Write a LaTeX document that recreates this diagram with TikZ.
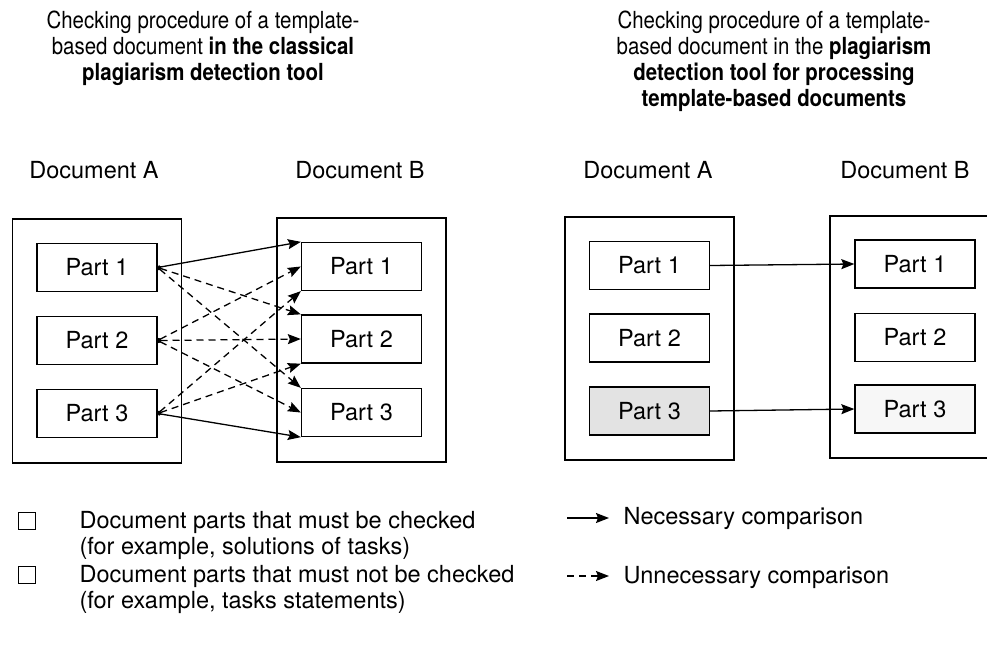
\documentclass[tikz,border=0pt]{standalone}
\usepackage{fontspec}
\setmainfont{TeX Gyre Heros}
\newfontfamily\titlefont[FakeStretch=0.87]{TeX Gyre Heros}
\usepackage{tikz}
\usetikzlibrary{arrows.meta,positioning}

\tikzset{
  part/.style={draw, line width=1.3pt, minimum width=120pt, minimum height=48pt, inner sep=0pt},
  docbox/.style={draw, line width=1.1pt, inner sep=0pt},
  need/.style={line width=1.3pt, -{Stealth[length=13pt,width=10pt,inset=2pt]}},
  noneed/.style={need, dash pattern=on 7pt off 5pt},
  dotstart/.style={{Circle[length=3.5pt]}-{Stealth[length=13pt,width=10pt,inset=2pt]}},
  keybox/.style={draw, line width=1.1pt, minimum width=17pt, minimum height=17pt, inner sep=0pt},
  heading/.style={align=center, font=\titlefont\fontsize{23.5}{26}\selectfont},
}

\begin{document}
\begin{tikzpicture}[x=1pt, y=-1pt, font=\fontsize{23.5}{26}\selectfont]
    \useasboundingbox (0,0) rectangle (987,645);

    % Titles
    \node[heading] (ltitle) at (203,48) {Checking procedure of a template-\\based document \textbf{in the classical}\\\textbf{plagiarism detection tool}};
    \node[heading] (rtitle) at (774,61) {Checking procedure of a template-\\based document in the \textbf{plagiarism}\\\textbf{detection tool for processing}\\\textbf{template-based documents}};

    % Left panel: classical tool
    \node (lhA) at (94,170) {Document A};
    \node (lhB) at (360,170) {Document B};
    \node[docbox, minimum width=169pt, minimum height=244pt] (lA) at (97,341) {};
    \node[docbox, minimum width=169pt, minimum height=244pt] (lB) at (361.5,340) {};
    \node[part] (lA1) at (97,267.5) {Part 1};
    \node[part] (lA2) at (97,340.5) {Part 2};
    \node[part] (lA3) at (97,413.5) {Part 3};
    \node[part] (lB1) at (361.5,266.5) {Part 1};
    \node[part] (lB2) at (361.5,339) {Part 2};
    \node[part] (lB3) at (361.5,412.5) {Part 3};

    % every part against every part
    \draw[need, dotstart] (lA1.east) -- (lB1.north west);
    \draw[noneed, dotstart] (lA1.east) -- (lB2.north west);
    \draw[noneed, dotstart] (lA1.east) -- (lB3.north west);
    \draw[noneed, dotstart] (lA2.east) -- (lB1.west);
    \draw[noneed, dotstart] (lA2.east) -- (lB2.west);
    \draw[noneed, dotstart] (lA2.east) -- (lB3.west);
    \draw[noneed, dotstart] (lA3.east) -- (lB1.south west);
    \draw[noneed, dotstart] (lA3.east) -- (lB2.south west);
    \draw[need, dotstart] (lA3.east) -- (lB3.south west);

    % Right panel: template-based tool
    \node (rhA) at (648,170) {Document A};
    \node (rhB) at (905,170) {Document B};
    \node[docbox, minimum width=169pt, minimum height=243pt] (rA) at (649.5,338.5) {};
    \node[docbox, minimum width=164pt, minimum height=242pt] (rB) at (912,337) {};
    \node[part] (rA1) at (649.5,265.5) {Part 1};
    \node[part] (rA2) at (649.5,338) {Part 2};
    \node[part, fill=gray!22] (rA3) at (649.5,411) {Part 3};
    \node[part] (rB1) at (915,264) {Part 1};
    \node[part] (rB2) at (915,337.5) {Part 2};
    \node[part, fill=gray!6] (rB3) at (915,409) {Part 3};

    \draw[need] (rA1.east) -- (rB1.west);
    \draw[need] (rA3.east) -- (rB3.west);

    % Legend
    \node[keybox] (key1) at (27,521) {};
    \node[keybox] (key2) at (27,575) {};
    \node[anchor=west, align=left] (key1txt) at (76,535) {Document parts that must be checked\\(for example, solutions of tasks)};
    \node[anchor=west, align=left] (key2txt) at (76,589) {Document parts that must not be checked\\(for example, tasks statements)};
    \coordinate (nfrom) at (567,518);
    \coordinate (nto) at (609,518);
    \coordinate (ufrom) at (567,576);
    \coordinate (uto) at (609,576);
    \draw[need] (nfrom) -- (nto);
    \draw[noneed] (ufrom) -- (uto);
    \node[anchor=west] (ntxt) at (620,518) {Necessary comparison};
    \node[anchor=west] (utxt) at (620,577) {Unnecessary comparison};
\end{tikzpicture}
\end{document}
